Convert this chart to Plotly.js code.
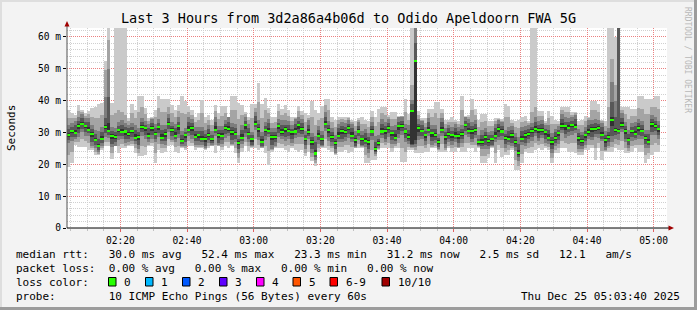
<!DOCTYPE html>
<html><head><meta charset="utf-8">
<script src="https://cdn.plot.ly/plotly-3.0.1.min.js"></script>
<style>html,body{margin:0;padding:0;background:#f3f3f3;}#chart{width:697px;height:310px;}</style>
</head><body><div id="chart"></div>
<script>
// ---- data (one value per 60 s step, starting 02:04) ----
const startTime = Date.UTC(2025, 11, 25, 2, 4, 0);
const stepMs = 60000;
const med = [29.2,30.5,29.8,32.1,32.7,32.1,30.8,29.5,27.7,25.9,
27.9,31.7,30.5,28.9,28.5,30.8,30.1,30.3,29.5,30.5,
28.4,28.5,31.6,31.3,28.9,31.5,29.6,31.7,28.4,29.6,
32.7,30.9,29.0,31.9,27.4,29.1,30.9,31.5,28.7,29.2,
28.0,28.0,29.2,28.0,30.9,29.2,29.0,31.5,31.0,30.1,
29.6,26.8,28.4,32.2,29.6,27.9,32.7,31.1,27.1,30.8,
30.5,28.5,28.5,31.9,30.0,31.0,30.5,30.0,30.3,32.2,
31.1,28.0,30.0,27.1,23.4,29.0,28.0,32.6,30.9,28.5,
26.8,29.0,30.5,30.0,31.5,29.0,27.7,30.3,28.0,27.4,
27.1,30.3,24.7,26.8,30.3,30.5,31.3,29.7,28.4,31.9,
31.9,30.3,28.5,36.8,52.3,31.3,30.5,29.2,30.8,29.7,
29.2,27.1,30.8,28.7,29.5,29.2,29.0,29.0,29.4,32.4,
30.5,30.5,30.8,26.9,26.9,28.5,27.3,28.0,29.0,31.1,
30.3,28.4,28.0,29.2,26.9,23.6,28.0,29.2,29.4,30.6,
31.0,30.8,30.8,30.0,28.4,27.1,28.2,29.7,31.9,31.9,
31.5,32.4,31.8,28.4,27.3,29.2,30.0,31.1,31.1,31.5,
29.2,27.7,28.5,34.0,30.8,30.5,32.2,30.5,27.7,30.5,
29.5,31.5,30.5,28.4,27.1,32.7,31.9,31.1,null,null];
const p1 = [19.3,20.5,26,25.5,25.5,25.5,24.5,24.5,22.9,22.9,
24.5,25.6,25.6,21.6,25.6,23.7,25,25,25.6,25.6,
23.7,22.6,22.6,22.9,25.6,25.6,20.3,24.5,23.7,24,
25.6,26.1,24,23.5,25,24.5,25.6,25.6,24.5,25,
25,24.5,25,25.6,23.5,25.6,24.5,25.6,25,25.6,
23.5,20.3,24,25.6,24.2,25,25,24.5,25,23.7,
19.8,24,25,25,25,24.5,24,25,24.5,24,
24.5,22.5,24,21,19.5,24,25,25,24.5,24,
23,24,24,24.5,23.7,24,25,25,25,20.3,
20.3,21.4,21.5,24.5,25,25,25,24,25,25,
20.8,20.8,24.5,24.5,23.5,23.5,23.5,24,24,25,
25,24,24,24,25,24,24,25,24,24,
25,25,24,25,20.3,20.3,21.9,25,20.3,24.5,
22.4,22.9,22.9,24.5,18.2,18.2,20.3,24,23.5,23.5,
24.5,25,24.5,25,24.5,20.3,23.5,23.5,25,25,
24,24,23.5,22.9,22.9,24.5,24.5,25,21.4,25,
21.4,24,24,24,25,24.5,24.5,23.5,23.5,24,
25,24,24,20.3,21.6,22.9,24,24,null,null];
const p2 = [23.0,23.9,26.9,27.0,27.8,27.2,26.6,25.2,24.0,23.3,
25.2,27.0,27.0,23.5,25.8,25.6,26.5,25.8,26.2,26.4,
25.0,23.7,25.8,25.5,26.2,26.7,23.6,26.5,25.0,25.0,
27.8,26.9,25.5,25.9,25.3,25.2,27.2,26.7,25.3,25.5,
25.5,24.7,25.8,25.8,26.2,25.8,25.4,27.0,27.0,26.0,
25.2,22.0,25.2,27.1,25.6,25.3,27.8,26.0,25.2,25.6,
24.1,24.4,25.4,26.8,26.5,25.9,26.0,25.9,26.4,26.3,
26.5,23.6,26.0,22.2,20.5,25.2,25.3,27.8,25.9,25.0,
23.3,25.5,25.5,26.0,26.0,25.5,25.2,26.3,25.3,22.8,
21.9,24.5,22.5,24.8,26.6,26.0,26.8,25.2,25.7,26.6,
25.0,24.0,25.5,25.0,24.5,25.6,25.7,25.0,26.4,25.5,
25.8,24.4,26.4,24.5,25.9,25.0,25.5,25.2,25.4,26.6,
26.8,26.0,26.1,25.3,22.6,22.6,23.3,25.3,23.6,26.0,
25.0,24.0,24.4,25.0,21.2,19.5,23.2,24.8,25.2,25.5,
26.8,26.1,26.4,25.9,25.5,21.9,24.5,25.0,27.4,26.6,
26.4,26.6,26.6,23.8,23.8,25.2,26.2,26.2,25.0,26.6,
24.3,24.2,25.0,25.5,26.5,26.0,27.4,25.2,24.3,25.7,
26.2,26.0,26.0,22.8,23.4,26.0,26.6,26.0,null,null];
const p3 = [26.6,27.3,27.8,28.5,30.1,28.9,28.8,25.9,25.1,23.8,
25.9,28.5,28.2,25.3,25.9,27.6,28.1,26.7,26.9,27.3,
26.4,24.9,29.0,28.1,26.9,27.9,27.0,28.5,26.4,26.0,
30.1,27.7,27.0,28.3,25.6,25.9,28.9,27.9,26.1,26.0,
26.0,25.0,26.6,26.0,28.9,26.0,26.4,28.3,29.0,26.5,
27.0,23.6,26.4,28.6,27.0,25.6,30.7,27.5,25.5,27.6,
28.5,24.9,25.9,28.7,28.0,27.4,27.9,26.8,28.3,28.6,
28.5,24.8,28.0,23.5,21.5,26.4,25.6,30.6,27.3,25.9,
23.6,27.0,26.9,27.4,28.3,27.0,25.5,27.7,25.6,25.4,
23.5,27.7,23.2,25.0,28.3,26.9,28.7,26.5,26.4,28.3,
29.3,27.1,26.5,25.5,25.5,27.7,27.9,26.0,28.8,26.1,
26.6,24.8,28.8,25.1,26.9,26.0,27.0,25.4,26.8,29.2,
28.5,26.9,28.2,25.6,24.9,24.9,24.7,25.6,27.0,27.5,
27.7,25.2,26.0,25.6,24.3,21.0,26.0,25.6,26.8,27.4,
29.0,27.2,28.2,26.8,26.4,23.5,25.6,26.5,29.9,28.3,
28.9,29.2,29.8,24.8,24.7,26.0,28.0,27.5,28.5,28.3,
27.2,24.5,25.9,27.0,28.0,27.5,30.2,26.9,25.1,27.3,
27.5,27.9,27.9,25.2,25.1,29.1,29.3,27.9,null,null];
const p4 = [27.7,28.5,28.7,29.7,31.2,30.1,29.7,27.1,26.2,24.4,
26.8,29.8,29.3,26.5,27.0,28.8,29.0,27.9,28.0,28.5,
27.3,26.1,30.1,29.3,27.8,29.1,28.1,29.7,27.3,27.2,
31.2,28.9,27.9,29.5,26.3,27.1,29.8,29.1,27.2,27.2,
26.9,25.6,27.7,26.8,29.8,26.8,27.5,29.5,29.9,27.7,
28.1,24.8,27.3,29.8,28.1,26.2,31.6,28.7,25.9,28.8,
29.4,26.1,27.0,29.9,28.9,28.6,29.0,28.0,29.2,29.8,
29.6,26.0,28.9,24.7,22.3,27.5,26.0,31.5,28.5,27.0,
24.8,27.9,28.1,28.5,29.5,27.9,25.9,28.8,26.0,26.3,
24.7,28.8,23.8,25.6,29.2,28.1,29.8,27.7,27.3,29.5,
30.4,28.3,27.4,26.0,26.5,28.9,29.0,27.2,29.7,27.3,
27.7,25.4,29.7,26.3,28.0,27.2,27.9,26.6,27.9,30.4,
29.4,28.1,29.3,26.0,25.8,26.1,25.8,26.0,27.9,28.7,
28.8,26.4,26.9,26.8,25.4,22.2,26.9,26.8,27.9,28.6,
29.9,28.4,29.3,28.0,27.3,24.7,26.7,27.7,30.8,29.5,
30.0,30.4,30.7,26.0,25.8,27.2,28.9,28.7,29.6,29.5,
28.1,25.3,27.0,29.0,29.3,29.5,31.1,28.1,26.2,28.5,
28.4,29.1,29.0,26.4,26.0,30.3,30.4,29.1,null,null];
const p5 = [28.7,29.7,29.4,31.1,32.2,31.3,30.4,28.5,27.2,25.3,
27.5,31.0,30.0,27.9,28.0,30.0,29.7,29.3,29.0,29.7,
28.0,27.5,31.1,30.5,28.5,30.5,29.1,30.9,28.0,28.6,
32.2,30.1,28.6,30.9,26.9,28.3,30.5,30.5,28.2,28.4,
27.6,27.0,28.7,27.2,30.5,28.2,28.5,30.7,30.6,29.1,
29.1,26.0,28.0,31.2,29.1,27.1,32.3,30.1,26.6,30.0,
30.1,27.5,28.0,31.1,29.6,30.0,30.0,29.2,29.9,31.2,
30.6,27.2,29.6,26.1,22.9,28.5,27.2,32.2,29.9,28.0,
26.0,28.6,29.5,29.5,30.7,28.6,26.7,29.8,27.2,27.0,
26.1,29.8,24.2,26.0,29.9,29.5,30.8,28.9,28.0,30.9,
31.4,29.5,28.1,26.5,27.5,30.3,30.0,28.4,30.4,28.7,
28.7,26.3,30.4,27.7,29.0,28.4,28.6,28.0,28.9,31.6,
30.1,29.5,30.3,26.4,26.5,27.5,26.8,27.2,28.6,30.1,
29.8,27.6,27.6,28.2,26.4,23.0,27.6,28.2,28.9,29.8,
30.6,29.8,30.3,29.2,28.0,26.1,27.7,28.9,31.5,30.9,
31.0,31.6,31.4,27.4,26.8,28.4,29.6,30.1,30.6,30.7,
28.8,26.7,28.0,32.0,30.3,30.0,31.8,29.5,27.2,29.7,
29.1,30.5,30.0,27.6,26.7,31.7,31.4,30.3,null,null];
const p6 = [29.9,30.9,30.8,32.7,33.4,32.5,31.8,30.1,28.4,26.3,
28.9,32.5,33.0,29.5,29.2,31.2,31.1,30.9,30.2,30.9,
29.4,29.1,32.3,31.7,29.9,32.1,30.3,32.1,29.4,30.2,
33.4,31.3,30.0,32.5,28.1,29.5,31.9,32.1,29.4,29.6,
29.0,28.6,29.9,28.4,31.9,29.8,29.7,31.9,32.0,30.7,
30.3,27.2,29.4,32.8,30.3,28.3,33.7,31.7,27.8,31.2,
31.5,29.1,29.2,32.3,31.0,31.6,31.2,30.4,31.3,32.8,
31.8,28.4,31.0,27.7,24.5,29.7,28.4,33.6,31.5,29.2,
27.2,30.0,31.1,30.7,31.9,30.0,28.3,31.0,28.4,28.4,
27.7,31.0,25.3,27.2,31.3,31.1,32.0,30.1,29.4,32.5,
32.6,30.7,29.5,36.8,52.3,31.9,31.2,29.6,31.8,30.3,
29.9,27.5,31.8,29.3,30.2,29.6,30.0,29.6,30.1,32.8,
31.5,31.1,31.5,27.3,27.9,29.1,28.0,28.4,30.0,31.7,
31.0,28.8,29.0,29.8,27.6,24.5,29.0,29.8,30.1,31.0,
32.0,31.4,31.5,30.4,29.4,27.7,28.9,30.1,32.9,32.5,
32.2,32.8,32.8,29.0,28.0,29.6,31.0,31.7,31.8,31.9,
30.2,28.3,29.2,35.0,31.5,31.0,33.2,31.1,28.4,30.9,
30.5,32.1,31.2,28.8,28.1,33.3,32.6,31.5,null,null];
const p7 = [31.0,31.7,32.2,33.6,34.5,33.3,33.2,31.0,29.5,28.0,
30.3,34.5,41.0,30.4,30.3,32.0,32.5,31.8,31.3,31.7,
30.8,30.0,33.4,32.5,31.3,33.0,31.4,32.9,30.8,31.1,
34.5,32.1,31.4,33.4,29.2,30.3,33.3,33.0,30.5,30.4,
30.4,29.5,31.0,29.2,33.3,30.7,30.8,32.7,33.4,31.6,
31.4,28.0,30.8,33.7,31.4,29.1,35.1,32.6,28.9,32.0,
32.9,30.0,30.3,33.1,32.4,32.5,32.3,31.2,32.7,33.7,
32.9,29.2,32.4,28.6,27.0,30.8,29.2,35.0,32.4,30.3,
28.0,31.4,32.0,31.8,32.7,31.4,29.2,32.1,29.2,29.8,
28.6,32.1,27.0,28.0,32.7,32.0,33.1,30.9,30.8,33.4,
33.7,31.5,30.9,39.0,58.0,32.8,32.3,30.4,33.2,31.2,
31.0,28.3,33.2,30.2,31.3,30.4,31.4,30.5,31.2,33.6,
32.9,32.0,32.6,28.1,29.3,30.0,29.1,29.2,31.4,32.6,
32.1,29.6,30.4,30.7,28.7,26.5,30.4,30.7,31.2,31.8,
33.4,32.3,32.6,31.2,30.8,28.6,30.0,30.9,34.3,33.4,
33.3,33.6,34.2,29.9,29.1,30.4,32.4,32.6,32.9,32.7,
31.6,29.2,30.3,39.7,35.0,63,34.6,32.0,29.5,31.7,
31.9,33.0,32.3,29.6,29.5,34.2,33.7,32.3,null,null];
const p8 = [32.2,32.9,33.6,34.9,35.7,34.5,34.6,32.3,30.7,30.5,
31.7,41.0,50.0,31.7,31.5,33.2,33.9,33.1,32.5,32.9,
32.2,31.3,34.6,33.7,32.7,34.3,32.6,34.1,32.2,32.4,
35.7,33.3,32.8,34.7,30.4,31.5,34.7,34.3,31.7,31.6,
31.8,30.8,32.2,30.4,34.7,32.0,32.0,33.9,34.8,32.9,
32.6,29.2,32.2,35.0,32.6,30.3,36.5,33.9,30.1,33.2,
34.3,31.3,31.5,34.3,33.8,33.8,33.5,32.4,34.1,35.0,
34.1,30.4,33.8,29.9,29.0,32.0,30.4,36.4,33.7,31.5,
29.2,32.8,33.3,33.0,33.9,32.8,30.5,33.3,30.4,31.2,
29.9,33.3,29.0,29.2,34.1,33.3,34.3,32.1,32.2,34.7,
34.9,32.7,32.3,40.2,63,34.1,33.5,31.6,34.6,32.5,
32.2,29.5,34.6,31.5,32.5,31.6,32.8,31.8,32.4,34.8,
34.3,33.3,33.8,29.3,30.7,31.3,30.3,30.4,32.8,33.9,
33.3,30.8,31.8,32.0,29.9,28.5,31.8,32.0,32.4,33.0,
34.8,33.6,33.8,32.4,32.2,29.9,31.2,32.1,35.7,34.7,
34.5,34.8,35.6,31.2,30.3,31.6,33.8,33.9,34.1,33.9,
33.0,30.5,31.5,46.0,40.0,63,36.0,33.3,30.7,32.9,
33.3,34.3,33.5,30.8,30.9,35.5,34.9,33.5,null,null];
const p9 = [34.6,34.4,34.5,36.7,36.3,35.2,35.7,35.0,34.4,34.6,
35.4,49.6,59.0,35.5,36.0,37.0,36.5,35.5,33.5,36.0,
34.6,36.3,38.0,35.7,33.6,34.6,34.7,37.7,36.4,36.5,
38.1,36.0,34.9,36.6,36.0,35.7,36.5,35.6,33.3,33.8,
36.0,32.9,33.8,32.2,36.6,34.1,35.1,36.1,34.9,37.1,
37.0,34.2,35.4,35.8,33.8,34.5,37.6,39.7,34.5,37.0,
36.0,33.1,33.2,36.6,35.5,36.2,35.2,33.7,34.6,36.6,
35.4,33.2,34.6,34.9,32.5,34.0,34.4,38.5,37.2,33.3,
31.6,33.9,34.2,34.0,34.5,33.4,32.0,33.9,32.7,32.6,
31.7,35.0,32.0,33.2,36.0,35.6,34.9,34.2,34.3,35.0,
35.1,36.5,34.0,45.0,63,35.5,34.0,33.0,36.0,35.0,
36.0,34.6,36.0,32.8,33.2,33.3,33.4,32.6,37.0,35.0,
34.9,37.0,35.5,31.6,33.2,33.5,31.9,32.0,33.6,34.2,
33.7,34.8,35.0,33.0,31.7,31.5,33.3,33.6,33.0,36.5,
38.0,35.2,35.3,33.0,34.5,32.6,32.6,32.8,36.9,36.4,
36.3,35.6,36.0,32.3,32.2,33.5,34.4,36.9,37.0,36.5,
33.5,32.0,38.0,53.0,45.0,63,37.0,35.7,34.3,35.1,
35.3,37.8,37.4,35.7,35.8,38.0,38.1,37.4,null,null];
const p10 = [37,36,35.5,38.6,37,36,36.8,37.8,38.1,38.8,
39.2,52.3,62.7,39.4,63,63,63,63,34.5,39,
37,41.3,41.3,37.8,34.5,35,36.9,41.3,40.6,40.6,
40.6,38.6,37,38.6,41.6,39.9,38.3,37,35,36,
40.2,35,35.5,34,38.6,36.2,38.3,38.3,35,41.3,
41.3,39.2,38.6,36.5,35,38.8,38.8,45.5,39,40.8,
37.7,35,35,39,37.3,38.6,36.9,35,35,38.3,
36.8,36.1,35.5,40,36.9,36.1,38.3,40.6,40.6,35,
34,35,35,35,35,34,33.5,34.5,35,34,
33.5,36.8,35,37.3,37.9,37.9,35.5,36.4,36.4,35.3,
35.3,40.4,35.8,63,63,36.8,34.5,34.5,37.5,37.5,
39.7,39.7,37.5,34,34,35,34,33.5,41.6,35.3,
35.5,40.6,37.3,34,35.8,35.8,33.5,33.5,34.5,34.5,
34.2,38.8,38.3,34,33.5,34,34.8,35.3,33.5,63,
63,36.8,36.8,33.5,36.8,35.3,34,33.5,38.1,38.1,
38.1,36.4,36.4,33.5,34,35.3,35,39.9,39.9,39,
34,33.5,63,63,60,63,38,38,38,37.3,
37.3,41.3,41.3,40.6,40.6,40.6,41.3,41.3,null,null];

const yTickVals = [0, 10, 20, 30, 40, 50, 60];
const yTickText = ['0', '10 m', '20 m', '30 m', '40 m', '50 m', '60 m'];
const bandColors = ['#cacaca', '#a4a4a4', '#7e7e7e', '#585858', '#323232'];
const lossLabels = ['0', '1', '2', '3', '4', '5', '6-9', '10/10'];
const lossColors = ['#26ff00', '#00b8ff', '#0059ff', '#5e00ff', '#ff00ff', '#ff5500', '#ff0000', '#a10000'];
const titleText = 'Last 3 Hours from 3d2a86a4b06d to Odido Apeldoorn FWA 5G';
const statLine1 = 'median rtt:   30.0 ms avg   52.4 ms max   23.3 ms min   31.2 ms now   2.5 ms sd   12.1   am/s';
const statLine2 = 'packet loss:  0.00 % avg   0.00 % max   0.00 % min   0.00 % now';
const statLine3 = 'loss color:';
const statLine4 = 'probe:        10 ICMP Echo Pings (56 Bytes) every 60s';
const stampText = 'Thu Dec 25 05:03:40 2025';

// ---- helpers ----
const iso = ms => new Date(ms).toISOString().replace('T', ' ').slice(0, 19);
const nb = s => s.replace(/ /g, '\u00a0');
const PL = 67, PR = 667, PT = 28, PB = 228;
const px = x => (x - PL) / (PR - PL);
const py = y => (PB - y) / (PB - PT);
const MONO = 'DejaVu Sans Mono, monospace';

const times = med.map((_, i) => iso(startTime + i * stepMs + stepMs / 2));
const pct = [p1, p2, p3, p4, p5, p6, p7, p8, p9, p10];

const traces = [];
for (let k = 0; k < 5; k++) {
  const lo = pct[k], hi = pct[9 - k];
  traces.push({
    type: 'bar', x: times,
    base: lo.map(v => v),
    y: lo.map((v, i) => (v == null || hi[i] == null) ? null : +(hi[i] - v).toFixed(2)),
    width: stepMs, marker: { color: bandColors[k], line: { width: 0 } },
    hoverinfo: 'skip'
  });
}
const halfW = 0.32;
traces.push({
  type: 'bar', x: times,
  base: med.map(v => v == null ? null : v - halfW),
  y: med.map(v => v == null ? null : 2 * halfW),
  width: stepMs, marker: { color: lossColors[0], line: { width: 0 } },
  hoverinfo: 'skip'
});

const annotations = [
  { text: 'Seconds', x: px(11), y: py(128), textangle: -90 , font: { family: MONO, size: 11, color: '#000' } },
  { text: nb('RRDTOOL / TOBI OETIKER'), x: px(688), y: py(60), textangle: 90, font: { family: MONO, size: 8, color: '#b8b8b8' } },
  { text: nb(statLine1), x: px(15), y: py(254.3), xanchor: 'left' },
  { text: nb(statLine2), x: px(15), y: py(268.3), xanchor: 'left' },
  { text: nb(statLine3), x: px(15), y: py(282.3), xanchor: 'left' },
  { text: nb(statLine4), x: px(15), y: py(296.2), xanchor: 'left' },
  { text: nb(stampText), x: px(681), y: py(296.2), xanchor: 'right' }
];
const boxLeft = [108.5, 145.5, 182.5, 219.5, 256.5, 293, 330, 382];
const shapes = [];
lossLabels.forEach((lab, i) => {
  shapes.push({ type: 'rect', xref: 'paper', yref: 'paper', x0: px(boxLeft[i]), x1: px(boxLeft[i] + 7.5), y0: py(286), y1: py(277.5),
    fillcolor: lossColors[i], line: { color: '#000', width: 1 } });
  annotations.push({ text: nb(lab), x: px(boxLeft[i] + 14.5), y: py(282.3), xanchor: 'left' });
});
annotations.forEach(a => {
  a.xref = 'paper'; a.yref = 'paper'; a.showarrow = false; a.borderpad = 0;
  if (!a.xanchor) a.xanchor = 'center';
  a.yanchor = 'middle';
  if (!a.font) a.font = { family: MONO, size: 11, color: '#000' };
});
// axis extensions and arrowheads
shapes.push({ type: 'line', xref: 'paper', yref: 'paper', x0: 0, x1: 0, y0: 0, y1: py(24), line: { color: '#505050', width: 1 } });
shapes.push({ type: 'line', xref: 'paper', yref: 'paper', x0: 0, x1: px(670), y0: 0, y1: 0, line: { color: '#000', width: 1 } });
shapes.push({ type: 'path', xref: 'paper', yref: 'paper', fillcolor: '#a00000', line: { width: 0 },
  path: `M ${px(67)} ${py(21)} L ${px(64.5)} ${py(26.5)} L ${px(69.5)} ${py(26.5)} Z` });
shapes.push({ type: 'path', xref: 'paper', yref: 'paper', fillcolor: '#a00000', line: { width: 0 },
  path: `M ${px(674)} ${py(228)} L ${px(668.5)} ${py(225.5)} L ${px(668.5)} ${py(230.5)} Z` });
// frame bevel
shapes.push({ type: 'line', xref: 'paper', yref: 'paper', x0: px(0), x1: px(697), y0: py(1), y1: py(1), line: { color: '#dedede', width: 2 } });
shapes.push({ type: 'line', xref: 'paper', yref: 'paper', x0: px(1), x1: px(1), y0: py(0), y1: py(310), line: { color: '#dedede', width: 2 } });
shapes.push({ type: 'line', xref: 'paper', yref: 'paper', x0: px(0), x1: px(697), y0: py(308.5), y1: py(308.5), line: { color: '#9c9c9c', width: 3 } });
shapes.push({ type: 'line', xref: 'paper', yref: 'paper', x0: px(695.5), x1: px(695.5), y0: py(0), y1: py(310), line: { color: '#9c9c9c', width: 3 } });

const layout = {
  width: 697, height: 310,
  margin: { l: PL, r: 697 - PR, t: PT, b: 310 - PB, pad: 0 },
  paper_bgcolor: '#f3f3f3', plot_bgcolor: '#ffffff',
  showlegend: false, barmode: 'overlay', bargap: 0,
  title: { text: titleText, font: { family: MONO, size: 13.5, color: '#000' },
    x: 0.5, xref: 'container', xanchor: 'center', y: 1 - 18 / 310, yref: 'container', yanchor: 'middle' },
  xaxis: {
    type: 'date', range: [iso(startTime), iso(startTime + 180 * stepMs)],
    tick0: iso(Date.UTC(2025, 11, 25, 2, 0, 0)), dtick: 20 * stepMs, tickformat: '%H:%M',
    ticks: 'outside', ticklen: 3, tickcolor: '#e06060',
    tickfont: { family: MONO, size: 9.6, color: '#000' },
    showgrid: true, gridcolor: '#ea8080', griddash: '1px,1px', gridwidth: 1,
    minor: { dtick: 5 * stepMs, tick0: iso(Date.UTC(2025, 11, 25, 2, 0, 0)), showgrid: true, gridcolor: '#d0d0d0', griddash: '1px,1px', gridwidth: 1, ticks: 'outside', ticklen: 2, tickcolor: '#c0c0c0' },
    showline: false, zeroline: false, fixedrange: true
  },
  yaxis: {
    range: [0, 62.8], tickvals: yTickVals, ticktext: yTickText,
    ticks: 'outside', ticklen: 3, tickcolor: '#000',
    tickfont: { family: MONO, size: 9.6, color: '#000' },
    showgrid: true, gridcolor: '#ea8080', griddash: '1px,1px', gridwidth: 1,
    minor: { dtick: 2, showgrid: true, gridcolor: '#d0d0d0', griddash: '1px,1px', gridwidth: 1 },
    showline: false, zeroline: false, fixedrange: true
  },
  annotations: annotations, shapes: shapes
};
Plotly.newPlot('chart', traces, layout, { staticPlot: true, displayModeBar: false });
</script></body></html>
